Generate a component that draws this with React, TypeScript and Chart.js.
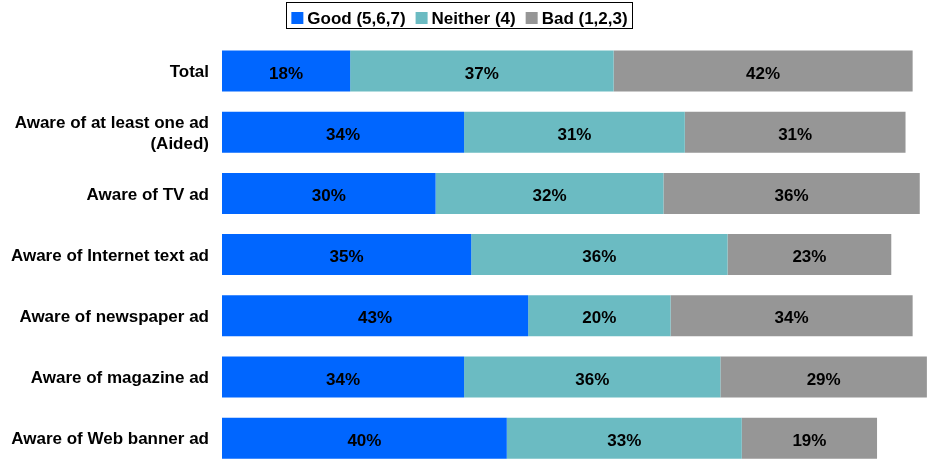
import React, { useEffect, useRef } from "react";
import { Chart, registerables } from "chart.js";

Chart.register(...registerables);

const categories: (string | string[])[] = [
  "Total",
  ["Aware of at least one ad", "(Aided)"],
  "Aware of TV ad",
  "Aware of Internet text ad",
  "Aware of newspaper ad",
  "Aware of magazine ad",
  "Aware of Web banner ad",
];

const seriesNames = ["Good (5,6,7)", "Neither (4)", "Bad (1,2,3)"];
const good = [18, 34, 30, 35, 43, 34, 40];
const neither = [37, 31, 32, 36, 20, 36, 33];
const bad = [42, 31, 36, 23, 34, 29, 19];
const seriesColors = ["#0066FF", "#6BBBC2", "#969696"];

const FONT_FAMILY = '"Liberation Sans", Arial, Helvetica, sans-serif';
const FONT = `bold 17px ${FONT_FAMILY}`;

// Percent labels centred inside every stacked segment
const segmentLabels = {
  id: "segmentLabels",
  afterDatasetsDraw(chart: any) {
    const ctx = chart.ctx;
    ctx.save();
    ctx.font = FONT;
    ctx.fillStyle = "#000000";
    ctx.textAlign = "center";
    ctx.textBaseline = "alphabetic";
    chart.data.datasets.forEach((ds: any, di: number) => {
      const meta = chart.getDatasetMeta(di);
      meta.data.forEach((el: any, i: number) => {
        const { x, base, y } = el.getProps(["x", "base", "y"], true);
        ctx.fillText(`${ds.data[i]}%`, (x + base) / 2, y + 7.5);
      });
    });
    ctx.restore();
  },
};

// Boxed legend row across the top
const boxedLegend = {
  id: "boxedLegend",
  afterDraw(chart: any) {
    const ctx = chart.ctx;
    ctx.save();
    ctx.font = FONT;
    const sq = 12;
    const gapText = 4;
    const gapItem = 10;
    const widths = seriesNames.map((n) => ctx.measureText(n).width);
    const total =
      widths.reduce((a, w) => a + sq + gapText + w, 0) + gapItem * (seriesNames.length - 1);
    const center = 459.5;
    let x = center - total / 2;
    const baseline = 24;
    ctx.strokeStyle = "#000000";
    ctx.lineWidth = 1;
    ctx.strokeRect(Math.round(x - 5) + 0.5, 2.5, Math.round(total + 10), 26);
    seriesNames.forEach((n, i) => {
      ctx.fillStyle = seriesColors[i];
      ctx.fillRect(x, baseline - sq, sq, sq);
      x += sq + gapText;
      ctx.fillStyle = "#000000";
      ctx.textAlign = "left";
      ctx.textBaseline = "alphabetic";
      ctx.fillText(n, x, baseline);
      x += widths[i] + gapItem;
    });
    ctx.restore();
  },
};

export default function App() {
  const canvasRef = useRef<HTMLCanvasElement | null>(null);

  useEffect(() => {
    if (!canvasRef.current) return;
    const values = [good, neither, bad];
    const chart = new Chart(canvasRef.current, {
      type: "bar",
      data: {
        labels: categories,
        datasets: values.map((v, i) => ({
          label: seriesNames[i],
          data: v,
          backgroundColor: seriesColors[i],
          borderWidth: 0,
          barPercentage: 0.67,
          categoryPercentage: 1,
        })),
      },
      options: {
        indexAxis: "y",
        responsive: false,
        animation: false,
        devicePixelRatio: 1,
        layout: { padding: { top: 40.4, bottom: 11.2, left: 0, right: 6 } },
        plugins: {
          legend: { display: false },
          tooltip: { enabled: false },
        },
        scales: {
          x: {
            stacked: true,
            min: 0,
            max: 100,
            display: false,
          },
          y: {
            stacked: true,
            grid: { display: false, drawTicks: false },
            border: { display: false },
            ticks: {
              padding: 13,
              labelOffset: 1.5,
              color: "#000000",
              font: { family: FONT_FAMILY, size: 17, weight: "bold", lineHeight: 1.2 },
            },
            afterFit: (scale: any) => {
              scale.width = 222;
              scale.paddingTop = 0;
              scale.paddingBottom = 0;
            },
          },
        },
      },
      plugins: [segmentLabels, boxedLegend],
    });
    return () => chart.destroy();
  }, []);

  return (
    <div
      style={{
        position: "absolute",
        left: 0,
        top: 0,
        width: 932,
        height: 459,
        overflow: "hidden",
        background: "#ffffff",
      }}
    >
      <canvas ref={canvasRef} width={940} height={480} style={{ display: "block" }} />
    </div>
  );
}
